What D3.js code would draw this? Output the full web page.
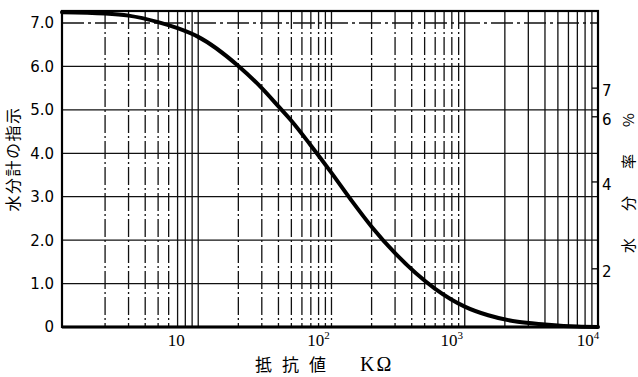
<!DOCTYPE html>
<html>
<head>
<meta charset="utf-8">
<script src="https://cdn.jsdelivr.net/npm/d3@7"></script>
<style>
  body { margin: 0; background: #fff; }
  svg { display: block; }
</style>
</head>
<body>
<svg id="chart" width="638" height="377"></svg>
<script>
// resistance (kΩ) and meter reading along the curve
const resistance = [0.95, 2, 3, 5, 7, 10, 20, 30, 40, 50, 70, 100, 140, 200, 300, 600, 1000, 1500, 2500, 4000, 7000, 10000];
const reading = [7.25, 7.22, 7.17, 7.02, 6.88, 6.68, 6.01, 5.50, 5.08, 4.75, 4.18, 3.55, 2.93, 2.31, 1.70, 0.88, 0.47, 0.27, 0.12, 0.06, 0.01, 0];

const xTicks = [10, 100, 1000, 10000];
const xTickExp = ["", "2", "3", "4"];
const yTicks = [0, 1, 2, 3, 4, 5, 6, 7];
const yTickLabels = ["0", "1.0", "2.0", "3.0", "4.0", "5.0", "6.0", "7.0"];
// right axis: moisture % and the meter reading it sits at
const moistTicks = [2, 4, 6, 7];
const moistAt = [1.34, 3.34, 4.84, 5.50];

const margin = {top: 11, right: 40, bottom: 50, left: 62};
const width = 598 - margin.left;
const height = 327 - margin.top;

const svg = d3.select("#chart");
const g = svg.append("g")
    .attr("transform", `translate(${margin.left},${margin.top})`);

const x = d3.scaleLog()
    .domain([0.95, 10000])
    .range([0, width]);
const y = d3.scaleLinear()
    .domain([0, 7.276])
    .range([height, 0]);

// vertical grid (log minor lines)
let gridX = x.ticks().filter(d => d > 1.01 && d < 9999);
g.selectAll(".vgrid")
    .data(gridX)
    .enter().append("line")
    .attr("class", "vgrid")
    .attr("x1", d => x(d)).attr("x2", d => x(d))
    .attr("y1", 0).attr("y2", height)
    .attr("stroke", "#111")
    .attr("stroke-width", 1.3)
    .attr("stroke-dasharray", d => d >= 1000 ? null : (d >= 7 && d <= 10 ? null : "18,3,2,3"));

// horizontal grid
g.selectAll(".hgrid")
    .data(yTicks.filter(d => d > 0))
    .enter().append("line")
    .attr("class", "hgrid")
    .attr("x1", 0).attr("x2", width)
    .attr("y1", d => y(d)).attr("y2", d => y(d))
    .attr("stroke", "#111")
    .attr("stroke-width", 1.3)
    .attr("stroke-dasharray", d => d === 7 ? "22,4,3,4" : null);

// frame
g.append("rect")
    .attr("x", 0).attr("y", 0)
    .attr("width", width).attr("height", height)
    .attr("fill", "none")
    .attr("stroke", "#000")
    .attr("stroke-width", 2.2);
g.append("line")
    .attr("x1", 0).attr("x2", width)
    .attr("y1", height).attr("y2", height)
    .attr("stroke", "#000")
    .attr("stroke-width", 3);

// curve
g.append("path")
    .datum(resistance.map((d, i) => [d, reading[i]]))
    .attr("fill", "none")
    .attr("stroke", "#000")
    .attr("stroke-width", 4)
    .attr("stroke-linecap", "round")
    .attr("d", d3.line()
        .x(d => x(d[0]))
        .y(d => y(d[1]))
        .curve(d3.curveMonotoneX));

// left tick labels
g.selectAll(".ylab")
    .data(yTicks)
    .enter().append("text")
    .attr("x", -8)
    .attr("y", d => y(d))
    .attr("dy", "0.36em")
    .attr("text-anchor", "end")
    .attr("font-family", "DejaVu Sans, sans-serif")
    .attr("font-size", 15)
    .text((d, i) => yTickLabels[i]);

// bottom tick labels
const xShift = [-22, -13, -13, -10];
const xl = g.selectAll(".xlab")
    .data(xTicks)
    .enter().append("text")
    .attr("x", (d, i) => x(d) + xShift[i])
    .attr("y", height + 19)
    .attr("text-anchor", "middle")
    .attr("font-family", "Liberation Serif, serif")
    .attr("font-size", 17);
xl.append("tspan").text("10");
xl.append("tspan")
    .attr("font-size", 11)
    .attr("dy", -7)
    .text((d, i) => xTickExp[i]);

// right axis (moisture %)
moistAt.forEach((v, i) => {
    g.append("line")
        .attr("x1", width - 6).attr("x2", width)
        .attr("y1", y(v)).attr("y2", y(v))
        .attr("stroke", "#000")
        .attr("stroke-width", 1.3);
    g.append("text")
        .attr("x", width + 4)
        .attr("y", y(v))
        .attr("dy", "0.55em")
        .attr("font-family", "DejaVu Sans, sans-serif")
        .attr("font-size", 15)
        .text(moistTicks[i]);
});

// axis titles
svg.append("text")
    .attr("transform", "translate(19,159) rotate(-90)")
    .attr("text-anchor", "middle")
    .attr("font-family", "Noto Sans CJK JP, sans-serif")
    .attr("font-size", 16)
    .attr("letter-spacing", 1.5)
    .text("水分計の指示");

svg.append("text")
    .attr("transform", "translate(634,180) rotate(-90)")
    .attr("text-anchor", "middle")
    .attr("font-family", "Noto Sans CJK JP, sans-serif")
    .attr("font-size", 15)
    .attr("letter-spacing", 6)
    .text("水　分　率　%");

const xt = svg.append("text")
    .attr("x", 255)
    .attr("y", 371)
    .attr("font-size", 17);
xt.append("tspan")
    .attr("font-family", "Noto Sans CJK JP, sans-serif")
    .attr("letter-spacing", 10)
    .text("抵抗値");
xt.append("tspan")
    .attr("dx", 24)
    .attr("font-family", "Liberation Serif, serif")
    .attr("font-size", 20)
    .attr("letter-spacing", 2)
    .text("KΩ");
</script>
</body>
</html>
